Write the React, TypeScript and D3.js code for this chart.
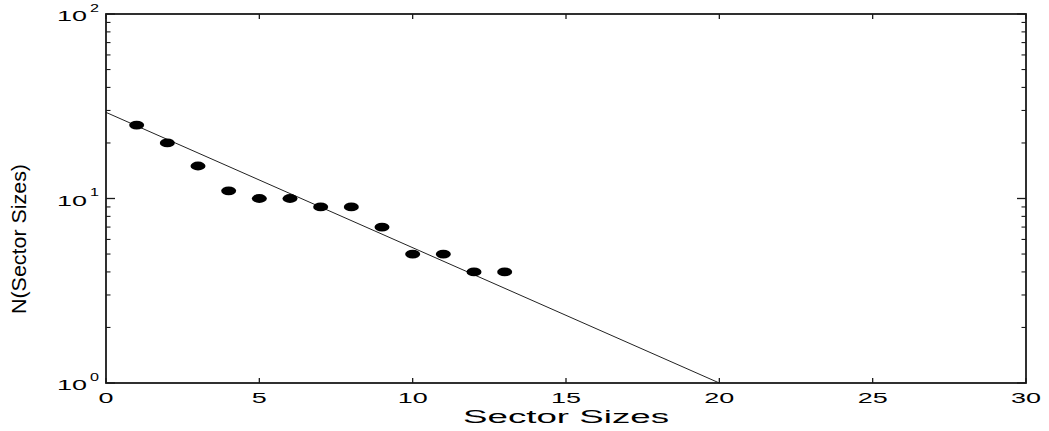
import React from "react";
import * as d3 from "d3";

// Observed sector-size counts
const sectorSizes = [1, 2, 3, 4, 5, 6, 7, 8, 9, 10, 11, 12, 13];
const sectorCounts = [25, 20, 15, 11, 10, 10, 9, 9, 7, 5, 5, 4, 4];

// Exponential fit (straight on the log axis), drawn between its end points
const fitX = [0, 20];
const fitY = [29.3, 1];

// Axis ticks
const xTicks = [0, 5, 10, 15, 20, 25, 30];
const yDecades = [0, 1, 2];

const W = 1049;
const H = 431;
const FONT = "'Liberation Sans', Arial, Helvetica, sans-serif";

export default function App() {
  const x = d3.scaleLinear().domain([0, 30]).range([106, 1026]);
  const y = d3.scaleLog().domain([1, 100]).range([383, 14]);
  const [x0, x1] = x.range();
  const [yb, yt] = y.range();

  const minorY: number[] = [];
  for (let d = 0; d < 2; d++) {
    for (let m = 2; m <= 9; m++) minorY.push(m * Math.pow(10, d));
  }

  const fitLine = d3
    .line<number>()
    .x((_, i) => x(fitX[i]))
    .y((v) => y(v));

  const axisColor = "#1a1a1a";

  return (
    <svg
      width={W}
      height={H}
      style={{ position: "absolute", left: 0, top: 0, background: "#fff" }}
    >
      <rect x={0} y={0} width={W} height={H} fill="#fff" />

      {/* fit line */}
      <path d={fitLine(fitY) || ""} fill="none" stroke="#222" strokeWidth={1} />

      {/* data markers */}
      {sectorSizes.map((s, i) => (
        <ellipse
          key={s}
          cx={x(s)}
          cy={y(sectorCounts[i])}
          rx={7.5}
          ry={4.4}
          fill="#000"
        />
      ))}

      {/* box */}
      <rect
        x={x0}
        y={yt}
        width={x1 - x0}
        height={yb - yt}
        fill="none"
        stroke={axisColor}
        strokeWidth={1.8}
      />

      {/* x ticks, bottom and top */}
      {xTicks.map((t) => (
        <g key={"xt" + t}>
          <line x1={x(t)} x2={x(t)} y1={yb} y2={yb - 5} stroke={axisColor} strokeWidth={1.3} />
          <line x1={x(t)} x2={x(t)} y1={yt} y2={yt + 5} stroke={axisColor} strokeWidth={1.3} />
          <text
            x={x(t)}
            y={403}
            fontFamily={FONT}
            fontSize={14}
            textAnchor="middle"
            textLength={String(t).length * 15}
            lengthAdjust="spacingAndGlyphs"
            fill="#000"
          >
            {t}
          </text>
        </g>
      ))}

      {/* y major ticks */}
      {yDecades.map((d) => {
        const yy = y(Math.pow(10, d));
        return (
          <g key={"yd" + d}>
            <line x1={x0} x2={x0 + 9} y1={yy} y2={yy} stroke={axisColor} strokeWidth={1.3} />
            <line x1={x1} x2={x1 - 9} y1={yy} y2={yy} stroke={axisColor} strokeWidth={1.3} />
            <text
              x={57}
              y={yy + 7}
              fontFamily={FONT}
              fontSize={15}
              textLength={30}
              lengthAdjust="spacingAndGlyphs"
              fill="#000"
            >
              10
            </text>
            <text
              x={90}
              y={yy - 2.5}
              fontFamily={FONT}
              fontSize={10.5}
              textLength={9}
              lengthAdjust="spacingAndGlyphs"
              fill="#000"
            >
              {d}
            </text>
          </g>
        );
      })}

      {/* y minor ticks */}
      {minorY.map((v) => (
        <g key={"ym" + v}>
          <line x1={x0} x2={x0 + 4.5} y1={y(v)} y2={y(v)} stroke={axisColor} strokeWidth={1.1} />
          <line x1={x1} x2={x1 - 4.5} y1={y(v)} y2={y(v)} stroke={axisColor} strokeWidth={1.1} />
        </g>
      ))}

      {/* axis titles */}
      <text
        x={(x0 + x1) / 2}
        y={423}
        fontFamily={FONT}
        fontSize={18.7}
        textAnchor="middle"
        textLength={206}
        lengthAdjust="spacingAndGlyphs"
        fill="#000"
      >
        Sector Sizes
      </text>
      <text
        transform={`translate(26, 239) rotate(-90)`}
        fontFamily={FONT}
        fontSize={21}
        textAnchor="middle"
        textLength={150}
        lengthAdjust="spacingAndGlyphs"
        fill="#000"
      >
        N(Sector Sizes)
      </text>
    </svg>
  );
}
